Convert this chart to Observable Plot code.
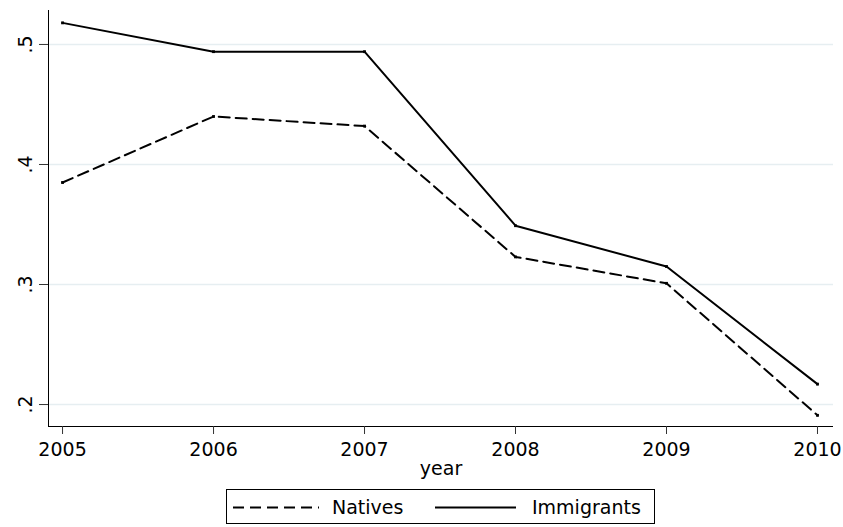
<!DOCTYPE html>
<html>
<head>
<meta charset="utf-8">
<script src="https://cdn.jsdelivr.net/npm/d3@7"></script>
<script src="https://cdn.jsdelivr.net/npm/@observablehq/plot@0.6"></script>
<style>
  body { margin: 0; background: #fff; font-family: "DejaVu Sans", sans-serif; }
  #wrap { position: relative; width: 843px; height: 527px; }
  #legend { position: absolute; left: 226px; top: 489px; width: 427px; height: 33px; border: 1px solid #000; }
  #legend .sw { position: absolute; top: 0; }
  #legend .lab { position: absolute; top: 6px; font-size: 19px; color: #000; line-height: 22px; white-space: nowrap; }
</style>
</head>
<body>
<div id="wrap">
  <div id="chart"></div>
  <div id="legend"></div>
</div>
<script>
const years = [2005, 2006, 2007, 2008, 2009, 2010];
const natives = [0.385, 0.440, 0.432, 0.323, 0.301, 0.191];
const immigrants = [0.518, 0.494, 0.494, 0.349, 0.315, 0.217];
const yTicks = [0.2, 0.3, 0.4, 0.5];
const seriesNames = ["Natives", "Immigrants"];

const rows = [];
years.forEach((yr, i) => {
  rows.push({year: yr, value: natives[i], series: seriesNames[0]});
  rows.push({year: yr, value: immigrants[i], series: seriesNames[1]});
});
const nat = rows.filter(d => d.series === "Natives");
const imm = rows.filter(d => d.series === "Immigrants");

const xDomain = [2004.907, 2010.106];
const yDomain = [0.1817, 0.5283];
const fmt = d => String(d).replace(/^0/, "");
const font = "DejaVu Sans";

const chart = Plot.plot({
  width: 843,
  height: 480,
  marginTop: 10,
  marginLeft: 48,
  marginRight: 10,
  marginBottom: 54,
  style: {fontFamily: font, fontSize: "19px", color: "#000", background: "#fff"},
  x: {domain: xDomain},
  y: {domain: yDomain},
  marks: [
    Plot.gridY(yTicks, {stroke: "#e6eef1", strokeOpacity: 1, strokeWidth: 1.5}),
    Plot.ruleX([xDomain[0]], {stroke: "#000", strokeWidth: 1}),
    Plot.ruleY([yDomain[0]], {stroke: "#000", strokeWidth: 1}),
    Plot.axisX({ticks: years, tickFormat: d => String(d), tickSize: 8, tickPadding: 8, stroke: "#333", label: null, fontSize: 19}),
    Plot.axisY({ticks: yTicks, tickSize: 9, tickFormat: () => "", stroke: "#333", label: null}),
    Plot.text(yTicks, {y: d => d, frameAnchor: "left", text: fmt, rotate: -90, dx: -23, textAnchor: "middle", lineAnchor: "middle", fontSize: 19, fill: "#000"}),
    Plot.text(["year"], {frameAnchor: "bottom", text: d => d, dy: 42, textAnchor: "middle", lineAnchor: "middle", fontSize: 19, fill: "#000"}),
    Plot.line(nat, {x: "year", y: "value", stroke: "#000", strokeWidth: 2, strokeDasharray: "11,6"}),
    Plot.line(imm, {x: "year", y: "value", stroke: "#000", strokeWidth: 2}),
    Plot.dot(rows, {x: "year", y: "value", symbol: "square", r: 1.6, fill: "#000"})
  ]
});
document.getElementById("chart").appendChild(chart);

// legend
const lg = document.getElementById("legend");
const items = [
  {name: seriesNames[0], dash: "11,6", lineLeft: 6, lineLen: 86, textLeft: 105},
  {name: seriesNames[1], dash: null, lineLeft: 208, lineLen: 81, textLeft: 305}
];
items.forEach(it => {
  const s = d3.create("svg").attr("class", "sw").attr("width", it.lineLen).attr("height", 33)
    .style("left", it.lineLeft + "px");
  const l = s.append("line").attr("x1", 0).attr("x2", it.lineLen).attr("y1", 17.5).attr("y2", 17.5)
    .attr("stroke", "#000").attr("stroke-width", 2);
  if (it.dash) l.attr("stroke-dasharray", it.dash);
  lg.appendChild(s.node());
  const t = document.createElement("div");
  t.className = "lab";
  t.style.left = it.textLeft + "px";
  t.textContent = it.name;
  lg.appendChild(t);
});
</script>
</body>
</html>
